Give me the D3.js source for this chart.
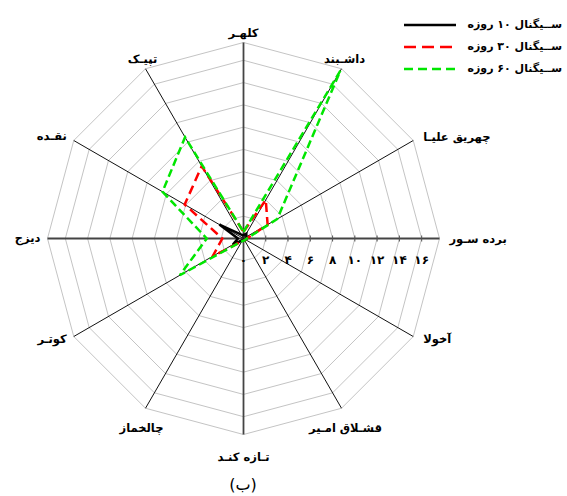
<!DOCTYPE html>
<html>
<head>
<meta charset="utf-8">
<script src="https://cdn.jsdelivr.net/npm/d3@7"></script>
<style>
    html, body { margin: 0; padding: 0; background: #fff; }
    svg text { font-family: "DejaVu Sans", sans-serif; }
</style>
</head>
<body>
<div id="chart"></div>
<script>
"use strict";

// axes clockwise from the top
const stations = ["کلهـر", "داشـبند", "چهریق علیـا", "برده سـور", "آخولا", "قشـلاق امـیر",
    "تـازه کنـد", "چالخماز", "کوتـر", "دیزج", "نقـده", "تپیـک"];

const signal10 = [0.3, 0.5, 0.3, 0.3, 0.2, 0.2, 0.2, 0.2, 1.1, 0.5, 2.5, 0.4];
const signal30 = [0.6, 4.0, 2.5, 0.3, 0.2, 0.2, 0.2, 0.3, 3.2, 1.9, 6.1, 7.5];
const signal60 = [0.6, 17.4, 3.5, 0.3, 0.2, 0.2, 0.2, 0.3, 6.6, 3.3, 8.4, 10.5];

const seriesNames = ["ســیگنال ۱۰ روزه", "ســیگنال ۳۰ روزه", "ســیگنال ۶۰ روزه"];
const tickValues = [0, 2, 4, 6, 8, 10, 12, 14, 16];
const AXIS_MAX = 17.6;

const W = 567, H = 496;
const cx = 243.5, cy = 238.5;

const svg = d3.select("#chart").append("svg").attr("width", W).attr("height", H);

const r = d3.scaleLinear().domain([0, AXIS_MAX]).range([0, 196]);
const angle = d3.scaleLinear().domain([0, stations.length]).range([0, 2 * Math.PI]);

const g = svg.append("g").attr("transform", "translate(" + cx + "," + cy + ")");

function persianDigits(n) {
    return String(n).replace(/[0-9]/g, function (c) {
        return "۰۱۲۳۴۵۶۷۸۹"[+c];
    });
}

// grid rings
const ringValues = tickValues.filter(function (v) { return v > 0; }).concat([AXIS_MAX]);
const ringLine = d3.lineRadial()
    .angle(function (d, i) { return angle(i); })
    .radius(function (d) { return r(d); })
    .curve(d3.curveLinearClosed);
g.selectAll(".ring")
    .data(ringValues)
    .enter()
    .append("path")
    .attr("class", "ring")
    .attr("d", function (v) { return ringLine(stations.map(function () { return v; })); })
    .attr("fill", "none")
    .attr("stroke", "#c4c4c4")
    .attr("stroke-width", 1);

// spokes
g.selectAll(".spoke")
    .data(stations)
    .enter()
    .append("line")
    .attr("class", "spoke")
    .attr("x1", 0).attr("y1", 0)
    .attr("x2", function (d, i) { return r(AXIS_MAX) * Math.sin(angle(i)); })
    .attr("y2", function (d, i) { return -r(AXIS_MAX) * Math.cos(angle(i)); })
    .attr("stroke", function (d, i) { return (i % 3 === 0) ? "#444" : "#111"; })
    .attr("stroke-width", function (d, i) { return (i % 3 === 0) ? 1.8 : 1; });

// value ticks along the horizontal (برده سور) axis
g.selectAll(".tick-mark")
    .data(tickValues.filter(function (v) { return v > 0; }))
    .enter()
    .append("line")
    .attr("class", "tick-mark")
    .attr("x1", function (d) { return r(d); })
    .attr("x2", function (d) { return r(d); })
    .attr("y1", -3).attr("y2", 3)
    .attr("stroke", "#555");
g.selectAll(".tick-label")
    .data(tickValues)
    .enter()
    .append("text")
    .attr("class", "tick-label")
    .attr("x", function (d) { return r(d); })
    .attr("y", 22)
    .attr("text-anchor", "middle")
    .attr("dominant-baseline", "middle")
    .attr("font-size", "12px")
    .attr("font-weight", "bold")
    .text(function (d) { return persianDigits(d); });

// station labels
g.selectAll(".station")
    .data(stations)
    .enter()
    .append("text")
    .attr("class", "station")
    .attr("font-size", "11.5px")
    .attr("font-weight", "bold")
    .attr("dominant-baseline", "middle")
    .each(function (d, i) {
        const a = angle(i);
        const s = Math.sin(a), c = Math.cos(a);
        const ex = r(AXIS_MAX) * s, ey = -r(AXIS_MAX) * c;
        const t = d3.select(this);
        if (s > 0.8) {
            t.attr("x", ex + 10).attr("y", ey + (c > 0.1 ? -3 : (c < -0.1 ? 3 : 1))).attr("text-anchor", "start");
        } else if (s < -0.8) {
            t.attr("x", ex - 7).attr("y", ey + (c > 0.1 ? -4 : (c < -0.1 ? 3 : 0))).attr("text-anchor", "end");
        } else if (c > 0) {
            t.attr("x", ex + s * 6).attr("y", ey - 9).attr("text-anchor", "middle");
        } else {
            t.attr("x", ex + s * 8).attr("y", ey + (c < -0.95 ? 23 : 20)).attr("text-anchor", "middle");
        }
    })
    .text(function (d) { return d; });

// data series
const series = [
    {name: seriesNames[0], values: signal10, color: "#000000", dash: null, legendDash: null},
    {name: seriesNames[1], values: signal30, color: "#ff0000", dash: "9,5", legendDash: "12,6"},
    {name: seriesNames[2], values: signal60, color: "#00e600", dash: "8,4", legendDash: "9,5"}
];
const seriesLine = d3.lineRadial()
    .angle(function (d, i) { return angle(i); })
    .radius(function (d) { return r(d); })
    .curve(d3.curveLinearClosed);
g.selectAll(".series")
    .data(series)
    .enter()
    .append("path")
    .attr("class", "series")
    .attr("d", function (d) { return seriesLine(d.values); })
    .attr("fill", "none")
    .attr("stroke", function (d) { return d.color; })
    .attr("stroke-width", 2.5)
    .attr("stroke-dasharray", function (d) { return d.dash; });

// legend
const legend = svg.append("g").selectAll(".legend-item")
    .data(series)
    .enter()
    .append("g")
    .attr("class", "legend-item")
    .attr("transform", function (d, i) { return "translate(0," + (25 + i * 22) + ")"; });
legend.append("line")
    .attr("x1", 404).attr("x2", 456)
    .attr("y1", 0).attr("y2", 0)
    .attr("stroke", function (d) { return d.color; })
    .attr("stroke-width", 2.5)
    .attr("stroke-dasharray", function (d) { return d.legendDash; });
legend.append("text")
    .attr("x", 562).attr("y", 0)
    .attr("text-anchor", "end")
    .attr("dominant-baseline", "middle")
    .attr("font-size", "11px")
    .attr("font-weight", "bold")
    .text(function (d) { return d.name; });

// caption
svg.append("text")
    .attr("x", 243).attr("y", 485)
    .attr("text-anchor", "middle")
    .attr("dominant-baseline", "middle")
    .attr("font-size", "16px")
    .text("(ب)");
</script>
</body>
</html>
